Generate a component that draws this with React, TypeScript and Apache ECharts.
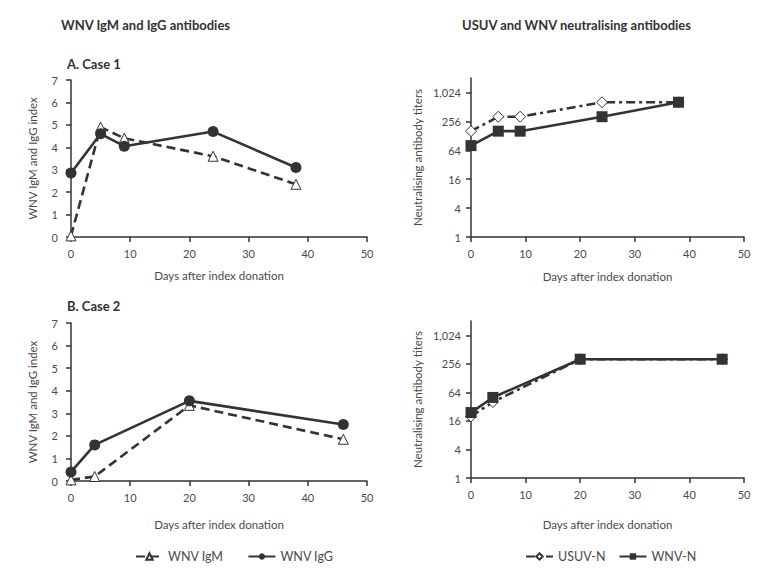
import React, { useEffect, useRef } from "react";
import * as echarts from "echarts";

// Case 1
const case1Days = [0, 5, 9, 24, 38];
const case1IgM = [0.05, 4.9, 4.4, 3.6, 2.35];
const case1IgG = [2.85, 4.6, 4.05, 4.7, 3.1];
const case1USUV = [160, 320, 320, 640, 640];
const case1WNVN = [80, 160, 160, 320, 640];

// Case 2
const case2Days = [0, 4, 20, 46];
const case2IgM = [0.05, 0.2, 3.35, 1.85];
const case2IgG = [0.4, 1.6, 3.55, 2.5];
const case2USUV = [20, 40, 320, 320];
const case2WNVN = [24, 50, 320, 320];

const titerTicks = [1, 4, 16, 64, 256, 1024];
const xAxisTitle = "Days after index donation";
const indexTitle = "WNV IgM and IgG index";
const titerTitle = "Neutralising antibody titers";

const FONT = "Lato, 'Open Sans', sans-serif";
const DARK = "#333333";
const LABEL = "#4a4a4a";

const pairs = (xs: number[], ys: number[]) => xs.map((x, i) => [x, ys[i]]);

export default function App() {
  const ref = useRef<HTMLDivElement>(null);
  useEffect(() => {
    if (!ref.current) return;
    const chart = echarts.init(ref.current, undefined, { renderer: "svg" });

    const grids = [
      { left: 71, top: 80, width: 296, height: 157 },
      { left: 471, top: 78, width: 273, height: 159 },
      { left: 71, top: 323, width: 296, height: 158 },
      { left: 471, top: 321, width: 273, height: 157 },
    ];
    const nameGaps = [32, 33, 37, 40];

    const xAxes = grids.map((_, i) => ({
      type: "value",
      gridIndex: i,
      min: 0,
      max: 50,
      interval: 10,
      name: xAxisTitle,
      nameLocation: "middle",
      nameGap: nameGaps[i],
      nameTextStyle: { color: LABEL, fontFamily: FONT, fontSize: 11.5 },
      axisLine: { show: true, lineStyle: { color: DARK, width: 1.5 } },
      axisTick: { show: true, inside: false, length: 5, lineStyle: { color: DARK, width: 1.5 } },
      axisLabel: { color: LABEL, fontFamily: FONT, fontSize: 11, margin: 11 },
      splitLine: { show: false },
    }));

    const indexY = (i: number) => ({
      type: "value",
      gridIndex: i,
      min: 0,
      max: 7,
      interval: 1,
      name: indexTitle,
      nameLocation: "middle",
      nameGap: 33,
      nameRotate: 90,
      nameTextStyle: { color: LABEL, fontFamily: FONT, fontSize: 11.5 },
      axisLine: { show: true, lineStyle: { color: DARK, width: 1.5 } },
      axisTick: { show: true, length: 5, lineStyle: { color: DARK, width: 1.5 } },
      axisLabel: { color: LABEL, fontFamily: FONT, fontSize: 11, margin: 13 },
      splitLine: { show: false },
    });

    const titerY = (i: number) => ({
      type: "log",
      logBase: 2,
      gridIndex: i,
      min: 1,
      max: 2048,
      name: titerTitle,
      nameLocation: "middle",
      nameGap: 48,
      nameRotate: 90,
      nameTextStyle: { color: LABEL, fontFamily: FONT, fontSize: 11.5 },
      axisLine: { show: true, lineStyle: { color: DARK, width: 1.5 } },
      axisTick: { show: true, length: 5, customValues: titerTicks, lineStyle: { color: DARK, width: 1.5 } },
      axisLabel: {
        color: LABEL,
        fontFamily: FONT,
        fontSize: 11,
        margin: 10,
        customValues: titerTicks,
        formatter: (v: number) => Math.round(v).toLocaleString("en-US"),
      },
      splitLine: { show: false },
    });

    const igm = (xi: number, data: number[][]) => ({
      type: "line",
      name: "WNV IgM",
      xAxisIndex: xi,
      yAxisIndex: xi,
      data,
      symbol: "triangle",
      symbolSize: 10,
      z: 2,
      lineStyle: { color: DARK, width: 2.6, type: [9, 5] },
      itemStyle: { color: "#ffffff", borderColor: DARK, borderWidth: 1 },
    });
    const igg = (xi: number, data: number[][]) => ({
      type: "line",
      name: "WNV IgG",
      xAxisIndex: xi,
      yAxisIndex: xi,
      data,
      symbol: "circle",
      symbolSize: 11,
      z: 3,
      lineStyle: { color: DARK, width: 2.6 },
      itemStyle: { color: DARK, borderColor: DARK, borderWidth: 0 },
    });
    const usuv = (xi: number, data: number[][]) => ({
      type: "line",
      name: "USUV-N",
      xAxisIndex: xi,
      yAxisIndex: xi,
      data,
      symbol: "diamond",
      symbolSize: 11,
      z: 2,
      lineStyle: { color: DARK, width: 2.6, type: [9, 4, 3, 4] },
      itemStyle: { color: "#ffffff", borderColor: DARK, borderWidth: 1 },
    });
    const wnvn = (xi: number, data: number[][]) => ({
      type: "line",
      name: "WNV-N",
      xAxisIndex: xi,
      yAxisIndex: xi,
      data,
      symbol: "rect",
      symbolSize: 11,
      z: 3,
      lineStyle: { color: DARK, width: 2.6 },
      itemStyle: { color: DARK, borderColor: DARK, borderWidth: 0 },
    });

    const titleStyle = { color: "#333333", fontFamily: FONT, fontSize: 13, fontWeight: "bold" };

    chart.setOption({
      animation: false,
      backgroundColor: "#ffffff",
      title: [
        { text: "WNV IgM and IgG antibodies", left: 56, top: 13, textStyle: titleStyle },
        { text: "USUV and WNV neutralising antibodies", left: 457, top: 13, textStyle: titleStyle },
        { text: "A. Case 1", left: 62, top: 52, textStyle: titleStyle },
        { text: "B. Case 2", left: 62, top: 294, textStyle: titleStyle },
      ],
      legend: [
        {
          data: ["WNV IgM", "WNV IgG"],
          left: 130,
          top: 545,
          itemWidth: 27,
          itemHeight: 8,
          itemGap: 24,
          textStyle: { color: LABEL, fontFamily: FONT, fontSize: 12.5 },
        },
        {
          data: ["USUV-N", "WNV-N"],
          left: 520,
          top: 545,
          itemWidth: 27,
          itemHeight: 8,
          itemGap: 13,
          textStyle: { color: LABEL, fontFamily: FONT, fontSize: 12.5 },
        },
      ],
      grid: grids,
      xAxis: xAxes,
      yAxis: [indexY(0), titerY(1), indexY(2), titerY(3)],
      series: [
        igm(0, pairs(case1Days, case1IgM)),
        igg(0, pairs(case1Days, case1IgG)),
        usuv(1, pairs(case1Days, case1USUV)),
        wnvn(1, pairs(case1Days, case1WNVN)),
        igm(2, pairs(case2Days, case2IgM)),
        igg(2, pairs(case2Days, case2IgG)),
        usuv(3, pairs(case2Days, case2USUV)),
        wnvn(3, pairs(case2Days, case2WNVN)),
      ],
    });
    return () => chart.dispose();
  }, []);
  return <div ref={ref} style={{ width: 760, height: 568, position: "absolute", left: 0, top: 0 }} />;
}
